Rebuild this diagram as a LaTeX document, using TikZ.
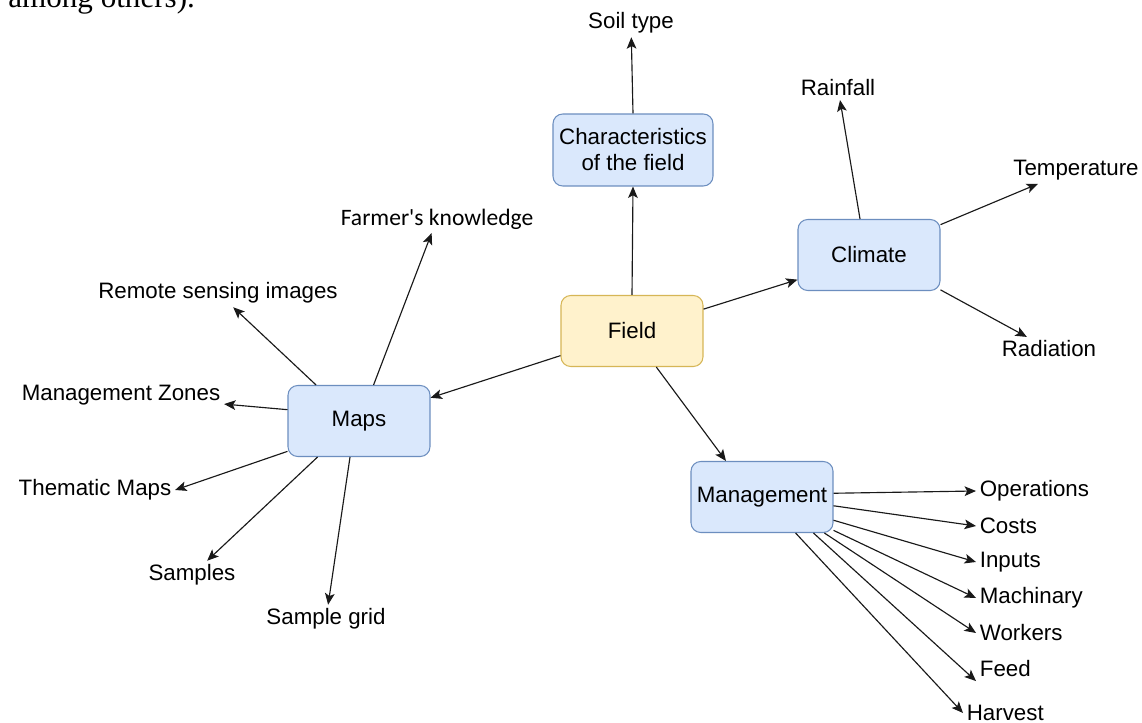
\documentclass[tikz,border=0pt]{standalone}
\usepackage{fontspec}
\setmainfont{Liberation Sans}
\newfontfamily\farmerfont{Carlito}
\newfontfamily\pagefont{Liberation Serif}
\usetikzlibrary{arrows.meta}

\definecolor{boxblue}{HTML}{DAE8FC}
\definecolor{lineblue}{HTML}{6C8EBF}
\definecolor{boxyellow}{HTML}{FFF2CC}
\definecolor{lineyellow}{HTML}{D6B656}

\tikzset{
  concept/.style={draw=lineblue, fill=boxblue, rounded corners=5.5pt, line width=0.6pt,
    minimum width=2.84cm, minimum height=1.42cm, align=center, inner sep=2pt},
  hub/.style={concept, draw=lineyellow, fill=boxyellow},
  leaf/.style={inner sep=2pt, yshift=-1.7pt},
  link/.style={-{Stealth[length=6.5pt,width=5.5pt,inset=1.5pt]}, line width=0.65pt, draw=black!90},
}

\begin{document}
\begin{tikzpicture}[x=0.02cm, y=-0.02cm, font=\fontsize{12.7}{14.8}\selectfont]
  \useasboundingbox[fill=white] (0,0) rectangle (1142,723);

  % cut text of the page above
  \node[anchor=base west, inner sep=0, font=\pagefont\fontsize{17.7}{20}\selectfont] (pagetext) at (8,8) {among others).};

  % boxes
  \node[hub] (field) at (632,331) {Field};
  \node[concept, minimum width=3.2cm, minimum height=1.44cm] (char) at (633,150) {Characteristics\\of the field};
  \node[concept] (climate) at (869,255) {Climate};
  \node[concept] (maps) at (359,421) {Maps};
  \node[concept] (mgmt) at (762,497) {Management};

  % leaves
  \node[leaf] (soil) at (631,20) {Soil type};
  \node[leaf] (rain) at (838,85) {Rainfall};
  \node[leaf] (temp) at (1076,167) {Temperature};
  \node[leaf] (rad) at (1049,346) {Radiation};
  \node[leaf, font=\farmerfont\fontsize{13.4}{16}\selectfont] (farmer) at (437,216) {Farmer's knowledge};
  \node[leaf] (remote) at (218,290) {Remote sensing images};
  \node[leaf] (zones) at (121,392) {Management Zones};
  \node[leaf] (thematic) at (95,487) {Thematic Maps};
  \node[leaf] (samples) at (192,572) {Samples};
  \node[leaf] (grid) at (326,616) {Sample grid};

  \node[leaf, anchor=west] (ops) at (976,488) {Operations};
  \node[leaf, anchor=west] (costs) at (976,523) {Costs};
  \node[leaf, anchor=west] (inputs) at (976,559) {Inputs};
  \node[leaf, anchor=west] (mach) at (976,595) {Machinary};
  \node[leaf, anchor=west] (workers) at (976,630) {Workers};
  \node[leaf, anchor=west] (feed) at (976,666) {Feed};
  \node[leaf, anchor=west] (harvest) at (963,710) {Harvest};

  % field links
  \draw[link] (char.north) -- (soil);
  \draw[link] (field.north) -- (char.south);
  \draw[link] (field.17) -- (climate.199);
  \draw[link] (field.199) -- (maps.18);
  \draw[link] (field.304) -- (mgmt.135);

  % climate
  \draw[link] (climate.104) -- (rain);
  \draw[link] (climate.23) -- (temp.200);
  \draw[link] (climate.-26) -- (rad);

  % maps
  \draw[link] (maps.68) -- (farmer);
  \draw[link] (maps.140) -- (remote);
  \draw[link] (maps.171) -- (zones);
  \draw[link] (maps.203) -- (thematic.east);
  \draw[link] (maps.221) -- (samples);
  \draw[link] (maps.256) -- (grid);

  % management
  \draw[link] (mgmt.3) -- (ops.west);
  \draw[link] (mgmt.-7) -- (costs.west);
  \draw[link] (mgmt.-18) -- (inputs.west);
  \draw[link] (mgmt.-25) -- (mach.west);
  \draw[link] (mgmt.-30) -- (workers.west);
  \draw[link] (mgmt.-35) -- (feed.south west);
  \draw[link] (mgmt.-47) -- (harvest.west);
\end{tikzpicture}
\end{document}
